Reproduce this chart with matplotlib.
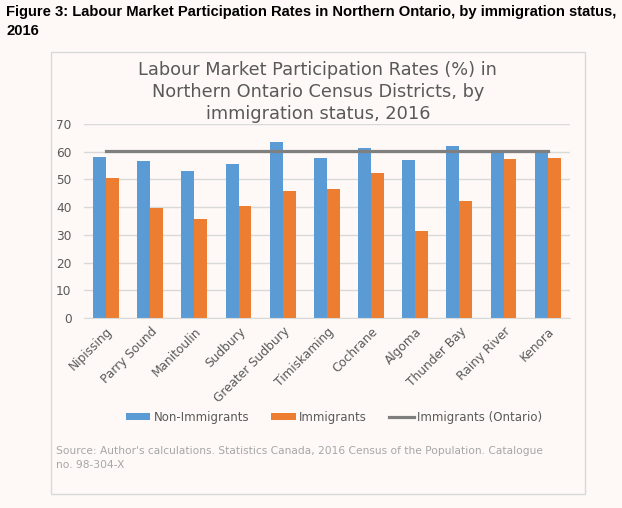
import matplotlib
matplotlib.use("Agg")
import matplotlib.pyplot as plt
import numpy as np
from matplotlib.patches import Rectangle

# Datos
districts = ["Nipissing", "Parry Sound", "Manitoulin", "Sudbury", "Greater Sudbury",
             "Timiskaming", "Cochrane", "Algoma", "Thunder Bay", "Rainy River", "Kenora"]
non_immigrants = [58.2, 56.5, 53.2, 55.7, 63.6, 57.8, 61.3, 57.1, 62.2, 60.2, 60.4]
immigrants = [50.6, 39.8, 35.8, 40.5, 45.9, 46.7, 52.4, 31.5, 42.3, 57.5, 57.8]
ontario_immigrants = [60.3] * len(districts)
yticks = [0, 10, 20, 30, 40, 50, 60, 70]

bg = "#FEF9F6"
txt = "#595959"

plt.rcParams['font.family'] = ['DejaVu Sans']

fig = plt.figure(figsize=(6.22, 5.08), dpi=100, facecolor=bg)
ax = fig.add_axes([0.135, 0.374, 0.781, 0.382])
ax.set_facecolor(bg)

x = np.arange(len(districts))
w = 0.293
b1 = ax.bar(x - w / 2, non_immigrants, w, color="#5B9BD5", label="Non-Immigrants", zorder=2)
b2 = ax.bar(x + w / 2, immigrants, w, color="#ED7D31", label="Immigrants", zorder=2)
l1, = ax.plot(x, ontario_immigrants, color="#7F7F7F", lw=2.3, label="Immigrants (Ontario)", zorder=3)

ax.set_xlim(-0.5, len(districts) - 0.5)
ax.set_ylim(0, 70)
ax.set_yticks(yticks)
ax.grid(axis="y", color="#D9D9D9", lw=1, zorder=0)
for s in ["top", "right", "left"]:
    ax.spines[s].set_visible(False)
ax.spines["bottom"].set_color("#D9D9D9")
ax.tick_params(axis="both", length=0, colors=txt, labelsize=8.7)
ax.tick_params(axis="y", pad=9)
ax.set_xticks(x)
ax.set_xticklabels(districts, rotation=45, ha="right", rotation_mode="anchor")
ax.tick_params(axis="x", pad=5)

# Titulo del grafico
fig.text(0.511, 1 - 70 / 508, "Labour Market Participation Rates (%) in", ha="center", va="center",
         fontsize=12.8, color=txt)
fig.text(0.511, 1 - 92 / 508, "Northern Ontario Census Districts, by", ha="center", va="center",
         fontsize=12.8, color=txt)
fig.text(0.511, 1 - 114 / 508, "immigration status, 2016", ha="center", va="center",
         fontsize=12.8, color=txt)

# Leyenda
fig.legend([b1, b2, l1], ["Non-Immigrants", "Immigrants", "Immigrants (Ontario)"],
           loc="center", bbox_to_anchor=(334 / 622, 1 - 417 / 508), ncol=3, frameon=False,
           fontsize=8.5, labelcolor=txt, handlelength=2.1, handleheight=0.5,
           columnspacing=1.9, handletextpad=0.25)

# Fuente
fig.text(56 / 622, 1 - 451 / 508,
         "Source: Author's calculations. Statistics Canada, 2016 Census of the Population. Catalogue",
         ha="left", va="center", fontsize=7.7, color="#A6A6A6")
fig.text(56 / 622, 1 - 465 / 508, "no. 98-304-X", ha="left", va="center", fontsize=7.7, color="#A6A6A6")

# Titulo de la figura
fig.text(6 / 622, 1 - 12 / 508,
         "Figure 3: Labour Market Participation Rates in Northern Ontario, by immigration status,",
         ha="left", va="center", fontsize=10.6, fontweight="bold", family="Liberation Sans")
fig.text(6 / 622, 1 - 31 / 508, "2016", ha="left", va="center", fontsize=10.6,
         fontweight="bold", family="Liberation Sans")

# Borde del area del grafico
fig.patches.append(Rectangle((51 / 622, 1 - 494 / 508), (585 - 51) / 622, (494 - 52) / 508,
                             transform=fig.transFigure, fill=False, edgecolor="#D9D9D9", lw=1))

fig.savefig("out.png", dpi=100, facecolor=bg)
